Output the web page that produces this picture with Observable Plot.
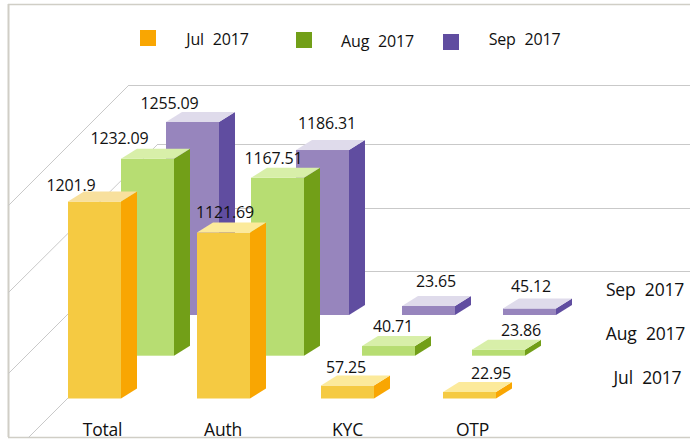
<!DOCTYPE html>
<html><head><meta charset="utf-8">
<script src="https://cdn.jsdelivr.net/npm/d3@7"></script>
<script src="https://cdn.jsdelivr.net/npm/@observablehq/plot@0.6"></script>
<style>
html,body{margin:0;padding:0;background:#fff}
svg{display:block}
text{word-spacing:5px}
.val text{letter-spacing:-0.15px}
.cat text{letter-spacing:-0.2px}
</style></head><body><div id="chart"></div>
<script>
// ---- data ----
const categories = ["Total", "Auth", "KYC", "OTP"];
const seriesNames = ["Jul 2017", "Aug 2017", "Sep 2017"];
const jul = [1201.9, 1121.69, 57.25, 22.95];
const aug = [1232.09, 1167.51, 40.71, 23.86];
const sep = [1255.09, 1186.31, 23.65, 45.12];
// Bar heights as actually drawn in the reference, read against the y scale
// (the source chart's bars are not strictly proportional to their labels).
const julDrawn = [1201, 1012, 79, 40];
const augDrawn = [1201, 1085, 59, 37];
const sepDrawn = [1177, 1006, 55, 40];

// ---- layout of the pseudo-3D scene (scale units: y = value units, x = category units) ----
const pxPerValue = 0.164, pxPerCat = 125, originX = 68, floorY = 398;
const X = px => (px - originX) / pxPerCat;
const Y = px => (floorY - px) / pxPerValue;
const dX = px => px / pxPerCat;
const dY = px => px / pxPerValue;
const W = 690, H = 440;
const barW = dX(53), depthX = dX(16), depthY = dY(10);
const seriesFloor = [Y(398.5), Y(355.7), Y(315)];
const seriesLeft = [
  [68, 197, 321, 443].map(X),
  [121, 251, 362, 472].map(X),
  [166, 296, 402, 503].map(X)
];
const labelDx = [[-24, 1, -2, 21], [-28.5, -4.5, 4, 22], [-23.5, 4, 7, 1]];
const labelDy = [[16, 20, 18, 19], [20, 19, 20, 19], [19, 27, 25, 22]];
const frontFill = ["#F5CA42", "#B7DD72", "#9785BD"];
const sideFill = ["#F9A602", "#729F18", "#604DA0"];
const topFill = ["#FCEA9B", "#D8EFA9", "#DFDBEB"];
const gridY = [85, 144, 208, 271].map(Y);
const gridStartX = [128, 157, 173, 194].map(X);
const diagonals = [
  [[8, 205], [128, 85]],
  [[8, 292], [157, 144]],
  [[8, 373], [173, 208]],
  [[28, 437], [194, 271]]
];
const frameColor = "#D0CEC6", gridColor = "#C9C9C9", textColor = "#111";

const valuesBySeries = [jul, aug, sep];
const drawnBySeries = [julDrawn, augDrawn, sepDrawn];
const bars = seriesNames.flatMap((series, s) => categories.map((category, c) => ({
  series, s, category, c,
  value: valuesBySeries[s][c],
  x1: seriesLeft[s][c],
  x2: seriesLeft[s][c] + barW,
  y1: seriesFloor[s],
  y2: seriesFloor[s] + drawnBySeries[s][c],
  ldx: labelDx[s][c], ldy: labelDy[s][c]
})));
// Draw back rows first, and left to right inside a row
const order = [...bars].sort((a, b) => b.s - a.s || a.c - b.c);

const gridRows = gridY.map((y, i) => ({y, x1: gridStartX[i], x2: X(690)}));
const diagRows = diagonals.flatMap((d, id) => d.map(([x, y]) => ({id, x: X(x), y: Y(y)})));

const faces = order.flatMap(b => [
  Plot.rect([b], {x1: "x1", x2: "x2", y1: "y1", y2: "y2", fill: frontFill[b.s]}),
  Plot.areaY(
    [{x: b.x2, y1: b.y1, y2: b.y2}, {x: b.x2 + depthX, y1: b.y1 + depthY, y2: b.y2 + depthY}],
    {x: "x", y1: "y1", y2: "y2", fill: sideFill[b.s], curve: "linear"}),
  Plot.areaX(
    [{y: b.y2, x1: b.x1, x2: b.x2}, {y: b.y2 + depthY, x1: b.x1 + depthX, x2: b.x2 + depthX}],
    {y: "y", x1: "x1", x2: "x2", fill: (b.s === 0 && b.c === 0) ? "#F8E09D" : topFill[b.s], curve: "linear"}),
]);

const axisLabels = [
  {t: categories[0], x: 102}, {t: categories[1], x: 222.5},
  {t: categories[2], x: 347}, {t: categories[3], x: 472}
];
const depthLabels = [
  {t: seriesNames[2], x: 644.5, y: 290},
  {t: seriesNames[1], x: 645, y: 334},
  {t: seriesNames[0], x: 647, y: 377.5}
];
const legend = [
  {t: seriesNames[0], sx: 140, sy: 30, tx: 217, ty: 39, c: sideFill[0]},
  {t: seriesNames[1], sx: 296, sy: 32, tx: 377, ty: 41, c: sideFill[1]},
  {t: seriesNames[2], sx: 443, sy: 34, tx: 524, ty: 39.5, c: sideFill[2]}
];
const font = "'Open Sans', 'Noto Sans', sans-serif";

const plot = Plot.plot({
  width: W, height: H,
  margin: 0,
  style: {background: "#fff", fontFamily: font},
  x: {domain: [X(0), X(W)], range: [0, W], axis: null},
  y: {domain: [Y(H), Y(0)], range: [H, 0], axis: null},
  marks: [
    // frame
    Plot.ruleY([Y(4)], {x1: X(8), x2: X(690), stroke: frameColor, strokeWidth: 1.5}),
    Plot.ruleY([Y(437)], {x1: X(8), x2: X(690), stroke: frameColor, strokeWidth: 1.5}),
    Plot.ruleX([X(8)], {y1: Y(4), y2: Y(437), stroke: frameColor, strokeWidth: 2}),
    // grid
    Plot.ruleY(gridRows, {y: "y", x1: "x1", x2: "x2", stroke: gridColor, strokeWidth: 1}),
    Plot.line(diagRows, {x: "x", y: "y", z: "id", stroke: gridColor, strokeWidth: 1}),
    // bars
    ...faces,
    // value labels
    Plot.text(bars, {
      x: d => d.x1 + dX(26.5 + d.ldx),
      y: d => d.y2 + dY(d.ldy),
      text: d => String(d.value),
      fontSize: 16, fill: textColor, className: "val"
    }),
    // category labels
    Plot.text(axisLabels, {x: d => X(d.x), y: Y(430), text: "t", fontSize: 17.5, fill: textColor, className: "cat"}),
    // depth axis labels
    Plot.text(depthLabels, {x: d => X(d.x), y: d => Y(d.y), text: "t", fontSize: 17.5, fill: textColor, className: "cat"}),
    // legend
    Plot.rect(legend, {x1: d => X(d.sx), x2: d => X(d.sx + 16), y1: d => Y(d.sy), y2: d => Y(d.sy + 16), fill: "c"}),
    Plot.text(legend, {x: d => X(d.tx), y: d => Y(d.ty), text: "t", fontSize: 16, fill: textColor, className: "cat"})
  ]
});
document.getElementById("chart").append(plot);
</script></body></html>
